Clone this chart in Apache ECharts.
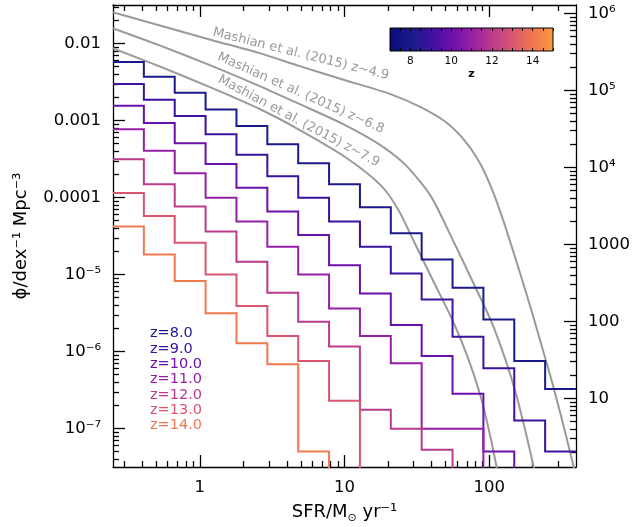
<!DOCTYPE html>
<html><head><meta charset="utf-8">
<script src="https://cdn.jsdelivr.net/npm/echarts@6/dist/echarts.min.js"></script>
<style>html,body{margin:0;padding:0;background:#fff}#c{width:634px;height:527px}</style>
</head><body><div id="c"></div>
<script>
// ---------------- data ----------------
const binEdges = [0.2512, 0.4105, 0.6708, 1.0965, 1.792, 2.9286, 4.7863, 7.8225, 12.784, 20.893, 34.146, 55.806, 91.201, 149.05, 243.6, 398.1];
const zNames = ['z=8.0', 'z=9.0', 'z=10.0', 'z=11.0', 'z=12.0', 'z=13.0', 'z=14.0'];
const zColors = ['#1a1a8c', '#3b129d', '#6a10ab', '#9520a6', '#bb3a8c', '#d95570', '#f0784f'];
const phi_z8  = [5.77e-3, 3.69e-3, 2.29e-3, 1.39e-3, 8.47e-4, 4.91e-4, 2.78e-4, 1.49e-4, 7.48e-5, 3.44e-5, 1.57e-5, 6.73e-6, 2.61e-6, 7.55e-7, 3.27e-7];
const phi_z9  = [2.97e-3, 1.86e-3, 1.14e-3, 6.61e-4, 3.60e-4, 1.89e-4, 9.96e-5, 4.87e-5, 2.29e-5, 1.03e-5, 4.74e-6, 1.56e-6, 6.05e-7, 1.27e-7, 5.03e-8];
const phi_z10 = [1.55e-3, 9.27e-4, 5.06e-4, 2.72e-4, 1.34e-4, 6.56e-5, 3.27e-5, 1.32e-5, 5.67e-6, 2.21e-6, 8.75e-7, 2.82e-7, 5.03e-8, null, null];
const phi_z11 = [7.67e-4, 4.05e-4, 2.07e-4, 9.96e-5, 4.87e-5, 2.29e-5, 1.0e-5, 3.62e-6, 1.59e-6, 7.02e-7, 9.9e-8, 9.9e-8, null, null, null];
const phi_z12 = [3.13e-4, 1.49e-4, 7.62e-5, 3.61e-5, 1.46e-5, 5.79e-6, 2.44e-6, 1.16e-6, 1.75e-7, 9.9e-8, 5.3e-8, null, null, null, null];
const phi_z13 = [1.14e-4, 5.77e-5, 2.58e-5, 1.0e-5, 3.90e-6, 1.59e-6, 7.55e-7, 2.29e-7, null, null, null, null, null, null, null];
const phi_z14 = [4.2e-5, 1.82e-5, 8.22e-6, 3.13e-6, 1.28e-6, 6.82e-7, 5.03e-8, null, null, null, null, null, null, null, null];
const phiSeries = [phi_z8, phi_z9, phi_z10, phi_z11, phi_z12, phi_z13, phi_z14];

const m49_sfr = [0.25, 0.522, 1.22, 2.59, 4.91, 10.1, 20.8, 33.6, 50.1, 69.0, 87.7, 106.3, 124.7, 141.8, 166.4, 195.3, 229.2, 269.0, 315.8, 358.8, 395.1];
const m49_phi = [0.0255, 0.01727, 0.01104, 7.49e-3, 5.08e-3, 3.34e-3, 2.20e-3, 1.49e-3, 9.54e-4, 5.25e-4, 2.64e-4, 1.18e-4, 5.12e-5, 2.43e-5, 9.33e-6, 3.49e-6, 1.23e-6, 4.32e-7, 1.39e-7, 5.35e-8, 2.54e-8];
const m68_sfr = [0.25, 0.522, 1.22, 2.59, 4.91, 10.1, 17.7, 26.4, 39.4, 56.0, 74.7, 102.9, 130.9, 153.6, 180.3, 204.9];
const m68_phi = [0.01579, 9.51e-3, 5.08e-3, 2.80e-3, 1.63e-3, 8.73e-4, 4.80e-4, 2.65e-4, 1.05e-4, 2.82e-5, 9.07e-6, 2.51e-6, 7.39e-7, 2.76e-7, 8.36e-8, 2.94e-8];
const m79_sfr = [0.25, 0.522, 1.22, 2.59, 4.91, 10.1, 17.7, 23.6, 30.5, 41.3, 56.0, 71.2, 87.7, 102.9, 115.1];
const m79_phi = [8.69e-3, 5.08e-3, 2.63e-3, 1.41e-3, 7.52e-4, 3.36e-4, 1.46e-4, 6.90e-5, 2.58e-5, 8.04e-6, 2.51e-6, 8.32e-7, 2.52e-7, 7.20e-8, 2.54e-8];
const mashianLabels = ['Mashian et al. (2015) z~4.9', 'Mashian et al. (2015) z~6.8', 'Mashian et al. (2015) z~7.9'];
const mashianLabelAt = [[4.99, 7.27e-3], [4.99, 2.26e-3], [4.83, 9.80e-4]];
const mashianLabelRot = [-14, -24, -28];

const xTickValues = [1, 10, 100];
const xTickLabels = ['1', '10', '100'];
const yTickValues = [1e-7, 1e-6, 1e-5, 1e-4, 1e-3, 1e-2];
const yTickLabels = ['10\u207B\u2077', '10\u207B\u2076', '10\u207B\u2075', '0.0001', '0.001', '0.01'];
const y2TickValues = [10, 100, 1000, 1e4, 1e5, 1e6];
const y2TickLabels = ['10', '100', '1000', '10\u2074', '10\u2075', '10\u2076'];

const cbMin = 7, cbMax = 15;
const cbTickLabels = [8, 10, 12, 14];
const cmapStops = [[0, '#0b0b7d'], [0.125, '#1a1a8c'], [0.25, '#3b129d'], [0.375, '#6a10ab'], [0.5, '#9520a6'], [0.625, '#bb3a8c'], [0.75, '#d95570'], [0.875, '#f0784f'], [1, '#f99b3e']];

// ---------------- layout ----------------
const FONT = 'DejaVu Sans';
const xMin = Math.pow(10, -0.6), xMax = Math.pow(10, 2.6);
const yMin = Math.pow(10, -7.5), yMax = Math.pow(10, -1.5);
const y2Min = Math.pow(10, 0.11), y2Max = Math.pow(10, 6.11);
const FLOOR = 1e-12;

function minors(lo, hi) {
  const out = [];
  for (let e = -10; e <= 8; e++) for (let m = 2; m <= 9; m++) {
    const v = m * Math.pow(10, e);
    if (v > lo && v < hi) out.push(v);
  }
  return out;
}
function lookup(vals, labels) {
  return function (v) {
    const i = vals.findIndex(t => Math.abs(Math.log10(t) - Math.log10(v)) < 1e-6);
    return i >= 0 ? labels[i] : '';
  };
}
function stepData(vals) {
  const d = [];
  for (let i = 0; i < vals.length; i++) {
    if (vals[i] == null) { d.push([binEdges[i], FLOOR]); break; }
    d.push([binEdges[i], vals[i]]);
    d.push([binEdges[i + 1], vals[i]]);
  }
  return d;
}
const black = { color: '#000', width: 1.3 };
function logAxis(grid, pos, min, max, major, len, labelFn, extra) {
  return Object.assign({
    gridIndex: grid, type: 'log', position: pos, min: min, max: max,
    axisLine: { show: len > 8, onZero: false, lineStyle: black },
    axisTick: { show: true, inside: true, length: len, customValues: major, lineStyle: black },
    axisLabel: labelFn ? { show: true, customValues: major, formatter: labelFn, fontSize: 16.5, fontFamily: FONT, color: '#000', margin: 12 } : { show: false },
    splitLine: { show: false }, minorTick: { show: false }, minorSplitLine: { show: false }
  }, extra || {});
}

const grids = [
  { left: 113, top: 5, width: 463, height: 462, outerBoundsMode: 'none' },
  { left: 113, top: 5, width: 463, height: 462, outerBoundsMode: 'none' },
  { left: 390, top: 28, width: 163, height: 23, outerBoundsMode: 'none' }
];

const xAxes = [
  logAxis(0, 'bottom', xMin, xMax, xTickValues, 12, lookup(xTickValues, xTickLabels), {
    name: '{a|SFR/M}{s|\u2299}{a| yr}{p|\u207B\u00B9}', nameLocation: 'middle', nameGap: 33,
    nameTextStyle: { color: '#000', fontFamily: FONT, rich: {
      a: { fontSize: 18, fontFamily: FONT, color: '#000', lineHeight: 24, verticalAlign: 'middle' },
      s: { fontSize: 11, fontFamily: FONT, color: '#000', lineHeight: 24, verticalAlign: 'bottom' },
      p: { fontSize: 18, fontFamily: FONT, color: '#000', lineHeight: 24, verticalAlign: 'middle' } } }
  }),
  logAxis(0, 'top', xMin, xMax, xTickValues, 12, null),
  logAxis(1, 'bottom', xMin, xMax, minors(xMin, xMax), 6, null),
  logAxis(1, 'top', xMin, xMax, minors(xMin, xMax), 6, null),
  { gridIndex: 2, type: 'value', position: 'bottom', min: cbMin, max: cbMax, interval: 0.5, z: 10,
    axisLine: { show: false }, axisTick: { show: true, inside: true, length: 3, lineStyle: { color: '#000', width: 1 } },
    axisLabel: { show: true, margin: 5, fontSize: 10.5, fontFamily: FONT, color: '#000', formatter: v => cbTickLabels.indexOf(v) >= 0 ? String(v) : '' },
    splitLine: { show: false },
    name: 'z', nameLocation: 'middle', nameGap: 18, nameTextStyle: { fontSize: 11, fontWeight: 'bold', fontFamily: FONT, color: '#000' } },
  { gridIndex: 2, type: 'value', position: 'top', min: cbMin, max: cbMax, interval: 0.5, z: 10,
    axisLine: { show: false }, axisTick: { show: true, inside: true, length: 3, lineStyle: { color: '#000', width: 1 } },
    axisLabel: { show: false }, splitLine: { show: false } }
];
const yAxes = [
  logAxis(0, 'left', yMin, yMax, yTickValues, 12, lookup(yTickValues, yTickLabels), {
    name: '\u03D5/dex\u207B\u00B9 Mpc\u207B\u00B3', nameLocation: 'middle', nameGap: 83, nameRotate: 90,
    nameTextStyle: { fontSize: 18, fontFamily: FONT, color: '#000' }
  }),
  logAxis(0, 'right', y2Min, y2Max, y2TickValues, 12, lookup(y2TickValues, y2TickLabels)),
  logAxis(1, 'left', yMin, yMax, minors(yMin, yMax), 6, null),
  logAxis(1, 'right', y2Min, y2Max, minors(y2Min, y2Max), 6, null),
  { gridIndex: 2, type: 'value', min: 0, max: 1, show: false }
];

const series = [];
[[m49_sfr, m49_phi], [m68_sfr, m68_phi], [m79_sfr, m79_phi]].forEach((m, k) => {
  series.push({
    type: 'line', xAxisIndex: 0, yAxisIndex: 0, name: 'mashian' + k, silent: true,
    data: m[0].map((s, i) => [s, m[1][i]]), smooth: 0.25, symbol: 'none',
    lineStyle: { color: '#9a9a9a', width: 2 }, z: 2,
    markPoint: { symbol: 'circle', symbolSize: 0, silent: true, data: [{
      coord: mashianLabelAt[k], value: 0,
      label: { show: true, position: 'inside', formatter: mashianLabels[k], rotate: mashianLabelRot[k], color: '#9a9a9a', fontSize: 13, fontFamily: FONT }
    }] }
  });
});
phiSeries.forEach((vals, k) => {
  series.push({
    type: 'line', name: zNames[k], xAxisIndex: 0, yAxisIndex: 0, data: stepData(vals),
    symbol: 'none', color: zColors[k], lineStyle: { color: zColors[k], width: 2, join: 'miter' }, z: 3, clip: true
  });
});
series.push({
  type: 'custom', xAxisIndex: 4, yAxisIndex: 4, data: [[cbMin, cbMax]], silent: true, z: 1,
  renderItem: function (params, api) {
    const a = api.coord([api.value(0), 0]);
    const b = api.coord([api.value(1), 1]);
    return { type: 'rect', shape: { x: a[0], y: b[1], width: b[0] - a[0], height: a[1] - b[1] },
      style: { fill: new echarts.graphic.LinearGradient(0, 0, 1, 0, cmapStops.map(s => ({ offset: s[0], color: s[1] }))), stroke: '#000', lineWidth: 1 } };
  }
});

const chart = echarts.init(document.getElementById('c'), null, { renderer: 'canvas' });
chart.setOption({
  animation: false,
  backgroundColor: '#fff',
  grid: grids, xAxis: xAxes, yAxis: yAxes, series: series,
  legend: {
    orient: 'vertical', left: 145, top: 326, padding: 0, itemWidth: 0, itemHeight: 0, itemGap: 0,
    icon: 'rect', selectedMode: false,
    data: zNames.map((n, i) => ({ name: n, textStyle: { color: zColors[i] } })),
    textStyle: { fontSize: 14.5, fontFamily: FONT, lineHeight: 15.3, padding: 0 }
  }
});
</script></body></html>
